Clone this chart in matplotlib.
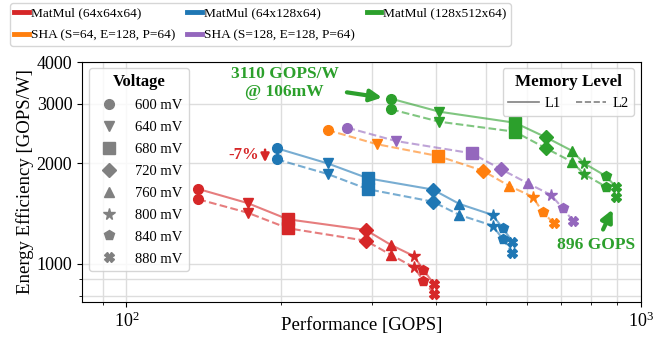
import matplotlib
matplotlib.use("Agg")
import matplotlib.pyplot as plt
from matplotlib.lines import Line2D
from matplotlib.ticker import FixedLocator, FixedFormatter, NullFormatter

plt.rcParams["font.family"] = ["Liberation Serif", "DejaVu Serif"]
plt.rcParams["mathtext.fontset"] = "stix"

# Spannungsstufen und Marker
voltages = ["600 mV", "640 mV", "680 mV", "720 mV", "760 mV", "800 mV", "840 mV", "880 mV"]
markers = ["o", "v", "s", "D", "^", "*", "p", "X"]
msizes = [7, 7, 8, 7.5, 7, 8.5, 7, 7]

# Performance [GOPS] / Energy Efficiency [GOPS/W] (L1 = durchgezogen, L2 = gestrichelt)
red_x = [138, 172, 206, 292, 327, 362, 378, 396]
red_l1 = [1673, 1519, 1359, 1263, 1139, 1056, 960, 872]
red_l2 = [1559, 1422, 1278, 1173, 1064, 978, 892, 814]
blue_x = [196, 246, 295, 394, 444, 515, 539, 563]
blue_l1 = [2213, 1995, 1800, 1667, 1510, 1400, 1278, 1166]
blue_l2 = [2051, 1855, 1670, 1534, 1400, 1301, 1187, 1081]
green_x = [327, 406, 569, 654, 734, 776, 855, 896]
green_l1 = [3110, 2844, 2637, 2386, 2177, 1995, 1829, 1693]
green_l2 = [2891, 2655, 2479, 2213, 2018, 1851, 1700, 1580]
sha64_x = [246, 307, 403, 493, 555, 616, 644, 677]
sha64_l2 = [2508, 2275, 2099, 1897, 1708, 1587, 1432, 1322]
sha128_x = [269, 334, 469, 535, 603, 669, 705, 739]
sha128_l2 = [2548, 2326, 2138, 1916, 1740, 1606, 1466, 1343]

series = [
    ("MatMul (64x64x64)", "tab:red", red_x, red_l1, red_l2),
    ("MatMul (64x128x64)", "tab:blue", blue_x, blue_l1, blue_l2),
    ("MatMul (128x512x64)", "tab:green", green_x, green_l1, green_l2),
    ("SHA (S=64, E=128, P=64)", "tab:orange", sha64_x, None, sha64_l2),
    ("SHA (S=128, E=128, P=64)", "tab:purple", sha128_x, None, sha128_l2),
]

fig, ax = plt.subplots(figsize=(6.62, 3.39), dpi=100)
fig.subplots_adjust(left=0.124, right=0.968, top=0.817, bottom=0.109)

for name, c, xs, l1, l2 in series:
    for ys, ls in ((l1, "-"), (l2, "--")):
        if ys is None:
            continue
        ax.plot(xs, ys, ls=ls, color=c, lw=1.5, alpha=0.6, zorder=2)
        for x, y, m, s in zip(xs, ys, markers, msizes):
            ax.plot(x, y, marker=m, ms=s, color=c, ls="none", zorder=3)

ax.set_xscale("log"); ax.set_yscale("log")
ax.set_xlim(82, 1000); ax.set_ylim(770, 4000)
ax.yaxis.set_major_locator(FixedLocator([1000, 2000, 3000, 4000]))
ax.yaxis.set_major_formatter(FixedFormatter(["1000", "2000", "3000", "4000"]))
ax.yaxis.set_minor_formatter(NullFormatter())
ax.grid(True, which="both", color="#dddddd", lw=1.0, zorder=0)
ax.set_axisbelow(True)
ax.tick_params(labelsize=13)
ax.set_xlabel("Performance [GOPS]", fontsize=13.5)
ax.xaxis.set_label_coords(0.5, -0.062)
ax.set_ylabel("Energy Efficiency [GOPS/W]", fontsize=13.5, labelpad=2)

# Annotationen
G = "tab:green"
ax.text(203, 3463, "3110 GOPS/W\n@ 106mW", color=G, fontsize=12.5, fontweight="bold",
        ha="center", va="center", linespacing=1.15)
ax.annotate("", xy=(318, 3125), xytext=(265, 3258),
            arrowprops=dict(arrowstyle="-|>,head_width=0.35,head_length=0.7", color=G, lw=3))
ax.text(169, 2113, "-7%", color="tab:red", fontsize=12, fontweight="bold", ha="center", va="center")
ax.annotate("", xy=(186, 1973), xytext=(186, 2234),
            arrowprops=dict(arrowstyle="-|>,head_width=0.25,head_length=0.5", color="tab:red", lw=1.8))
ax.text(818, 1139, "896 GOPS", color=G, fontsize=12.5, fontweight="bold", ha="center", va="center")
ax.annotate("", xy=(886, 1479), xytext=(840, 1245),
            arrowprops=dict(arrowstyle="-|>,head_width=0.35,head_length=0.7", color=G, lw=3))

# Legende Voltage
vh = [Line2D([], [], marker=m, ms=s, color="grey", ls="none") for m, s in zip(markers, msizes)]
leg1 = ax.legend(vh, voltages, title="Voltage", loc="upper left", bbox_to_anchor=(0.012, 0.975),
                 borderaxespad=0, fontsize=10.5, labelspacing=0.6, handletextpad=0.8)
leg1.get_title().set_fontweight("bold"); leg1.get_title().set_fontsize(12)
ax.add_artist(leg1)

# Legende Memory Level
mh = [Line2D([], [], color="grey", ls="-", lw=1.2), Line2D([], [], color="grey", ls="--", lw=1.2)]
leg2 = ax.legend(mh, ["L1", "L2"], title="Memory Level", loc="upper right", bbox_to_anchor=(0.988, 0.975),
                 borderaxespad=0, ncol=2, fontsize=10.5, handlelength=2.1, handletextpad=0.4,
                 columnspacing=1.0)
leg2.get_title().set_fontweight("bold"); leg2.get_title().set_fontsize(12.3)

# Legende oben (spaltenweise gefüllt)
order = [0, 3, 1, 4, 2]
sh = [Line2D([], [], color=series[i][1], lw=3.5) for i in order]
fig.legend(sh, [series[i][0] for i in order], loc="upper left", bbox_to_anchor=(0.0151, 0.991),
           borderaxespad=0, borderpad=0.3, ncol=3, fontsize=9.6, handlelength=1.1, handletextpad=0.15,
           columnspacing=0.9, labelspacing=0.75)

fig.savefig("out.png", dpi=100)
